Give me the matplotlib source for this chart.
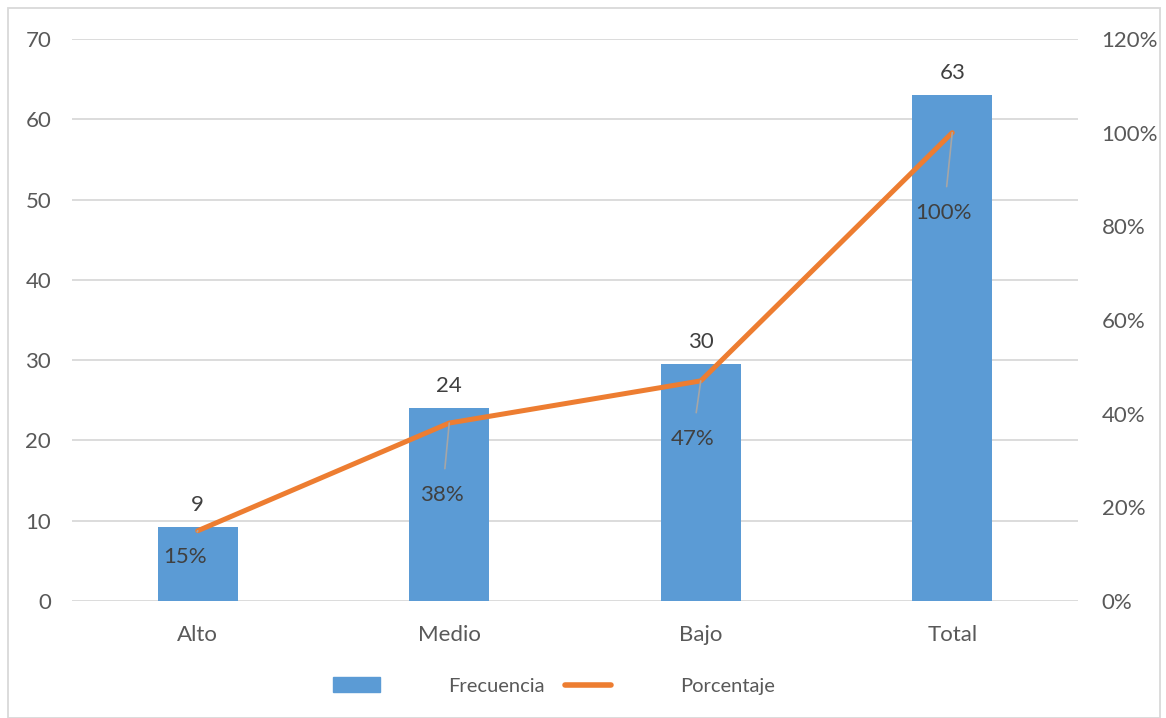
import matplotlib.pyplot as plt
from matplotlib.patches import Rectangle, Patch
from matplotlib.lines import Line2D
import matplotlib.ticker as mticker

plt.rcParams["font.family"] = ["Lato", "DejaVu Sans"]

# data
categorias = ["Alto", "Medio", "Bajo", "Total"]
frecuencia = [9.2, 24, 29.5, 63]
porcentaje = [0.15, 0.38, 0.47, 1.00]
etiq_frec = ["9", "24", "30", "63"]
etiq_pct = ["15%", "38%", "47%", "100%"]

BLUE = "#5B9BD5"
ORANGE = "#ED7D31"
GRID = "#D9D9D9"
TXT = "#404040"
TICK = "#595959"
FS = 16

fig = plt.figure(figsize=(11.66, 7.18), dpi=100)
ax = fig.add_axes([72 / 1166, 117 / 718, 1006 / 1166, 562 / 718])
ax2 = ax.twinx()

x = range(len(categorias))
bars = ax.bar(x, frecuencia, width=0.318, color=BLUE, zorder=2)
ax.bar_label(bars, labels=etiq_frec, padding=9, fontsize=FS, color=TXT)

ax.set_xlim(-0.5, 3.5)
ax.set_ylim(0, 70)
ax.set_yticks(range(0, 71, 10))
ax.set_xticks(list(x))
ax.set_xticklabels(categorias)
ax.grid(axis="y", color=GRID, linewidth=1.3, zorder=0)
ax.set_axisbelow(True)

ax2.plot(x, porcentaje, color=ORANGE, linewidth=3.6, solid_capstyle="round", zorder=3)
ax2.set_ylim(0, 1.2)
ax2.set_yticks([i / 10 for i in range(0, 13, 2)])
ax2.yaxis.set_major_formatter(mticker.FuncFormatter(lambda v, _: f"{v * 100:.0f}%"))

# percentage labels with leader lines
offsets = [(-9, -19), (-5, -52), (-6, -42), (-6, -58)]
for xi, yi, lab, off in zip(x, porcentaje, etiq_pct, offsets):
    ax2.annotate(lab, xy=(xi, yi), xytext=off, textcoords="offset points",
                 ha="center", va="center", fontsize=FS, color=TXT,
                 arrowprops=dict(arrowstyle="-", color="#A6A6A6", lw=1.2,
                                 shrinkA=10, shrinkB=0))

for a in (ax, ax2):
    for s in a.spines.values():
        s.set_visible(False)
    a.tick_params(length=0, labelsize=FS, labelcolor=TICK)
ax.tick_params(axis="y", pad=15)
ax.tick_params(axis="x", pad=17)
ax2.tick_params(axis="y", pad=17)

handles = [Patch(color=BLUE), Line2D([0], [0], color=ORANGE, linewidth=4, solid_capstyle="round")]
fig.legend(handles, ["Frecuencia", "Porcentaje"], loc="center", bbox_to_anchor=(554 / 1166, 1 - 686 / 718),
           ncol=2, frameon=False, fontsize=14.5, handlelength=2.3, handleheight=0.7,
           handletextpad=3.4, columnspacing=1.0, labelcolor=TICK)

fig.patches.append(Rectangle((8 / 1166, 0), 1152 / 1166, 710 / 718, transform=fig.transFigure,
                             fill=False, edgecolor=GRID, linewidth=1.3))

fig.savefig("out.png", dpi=100)
